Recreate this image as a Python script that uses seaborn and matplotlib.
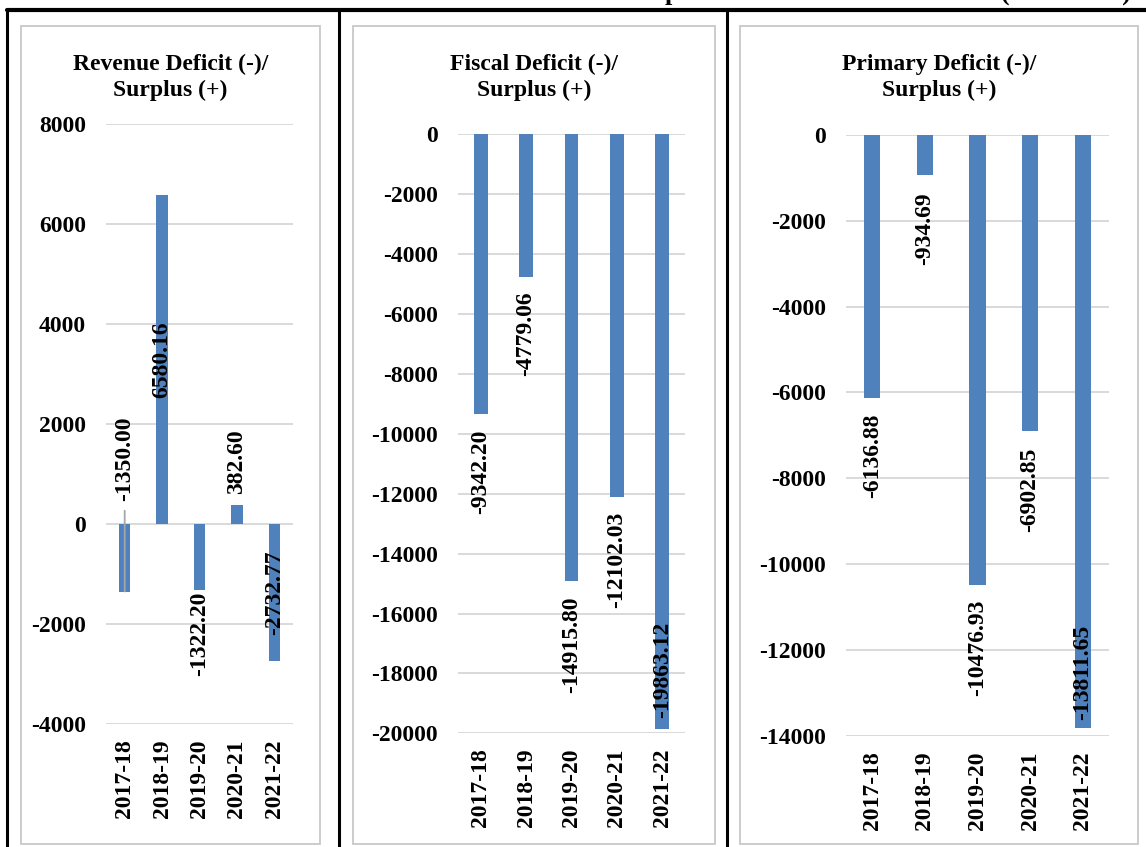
import matplotlib
matplotlib.use("Agg")
import matplotlib.pyplot as plt
import numpy as np
import pandas as pd
import seaborn as sns
from matplotlib.lines import Line2D
from matplotlib.patches import Rectangle

# ---- data (₹ crore) ----
years = ["2017-18", "2018-19", "2019-20", "2020-21", "2021-22"]
revenue = [-1350.00, 6580.16, -1322.20, 382.60, -2732.77]
fiscal = [-9342.20, -4779.06, -14915.80, -12102.03, -19863.12]
primary = [-6136.88, -934.69, -10476.93, -6902.85, -13811.65]

titles = [
    "Revenue Deficit (-)/\nSurplus (+)",
    "Fiscal Deficit (-)/\nSurplus (+)",
    "Primary Deficit (-)/\nSurplus (+)",
]
heading = "Deficit/Surplus of the State Government (₹ in crore)"

# ---- style ----
sns.set_theme(style="white")
plt.rcParams["font.family"] = ["Liberation Serif", "DejaVu Serif"]
plt.rcParams["font.weight"] = "bold"
plt.rcParams["axes.unicode_minus"] = False

W, H = 1146, 847
BLUE = "#4F81BD"
GRID = "#D9D9D9"
FRAME = "#C8C8C8"
LEADER = "#A6A6A6"
FS = 17

fig = plt.figure(figsize=(W / 100, H / 100), dpi=100)
fig.patch.set_facecolor("white")


def fx(x):
    return x / W


def fy(y):
    return 1 - y / H


def px_axes(l, t, r, b):
    return fig.add_axes([fx(l), fy(b), (r - l) / W, (b - t) / H])


# table rules around the three panels
rules = [
    ((7, W), (10, 10), 3.0),
    ((7, 7), (10, H), 2.2),
    ((339, 339), (10, H), 2.2),
    ((727, 727), (10, H), 2.2),
]
for xs, ys, lw in rules:
    fig.add_artist(Line2D([fx(xs[0]), fx(xs[1])], [fy(ys[0]), fy(ys[1])],
                          color="black", lw=lw, transform=fig.transFigure))

# heading line of the table, running above the top edge
fig.text(fx(1131), 1.0, heading, ha="right", va="baseline", fontsize=19,
         fontweight="bold", color="black")

panels = [
    dict(values=revenue, box=(21, 26, 320, 844), area=(106, 124, 293, 724),
         ylim=(-4000, 8000), ticks=np.arange(-4000, 8001, 2000),
         width=0.3,
         modes=["lead", "center", "out", "out", "center"],
         gaps=[65.5, 0, 1, 8, 0]),
    dict(values=fiscal, box=(353, 26, 715, 844), area=(458, 134.3, 685, 733.3),
         ylim=(-20000, 0), ticks=np.arange(-20000, 1, 2000),
         width=0.3,
         modes=["out", "out", "out", "out", "in"],
         gaps=[11, 10, 11, 11, 8]),
    dict(values=primary, box=(740, 26, 1138, 844), area=(846, 134.7, 1109, 736),
         ylim=(-14000, 0), ticks=np.arange(-14000, 1, 2000),
         width=0.31,
         modes=["out", "out", "out", "out", "in"],
         gaps=[11, 12.5, 11, 12, 6]),
]

for title, p in zip(titles, panels):
    l, t, r, b = p["box"]
    fig.add_artist(Rectangle((fx(l), fy(b)), (r - l) / W, (b - t) / H,
                             transform=fig.transFigure, facecolor="none",
                             edgecolor=FRAME, lw=1.3))
    fig.text(fx((l + r) / 2), fy(54), title, ha="center", va="top",
             fontsize=FS, fontweight="bold", linespacing=1.3, color="black")

    ax = px_axes(*p["area"])
    df = pd.DataFrame({"year": years, "value": p["values"]})
    sns.barplot(data=df, x="year", y="value", order=years, color=BLUE,
                saturation=1, width=p["width"], linewidth=0, errorbar=None,
                ax=ax, zorder=2)

    ax.set_xlim(-0.5, len(years) - 0.5)
    ax.set_ylim(*p["ylim"])
    ax.set_yticks(p["ticks"])
    ax.set_yticklabels([str(int(v)) for v in p["ticks"]], fontsize=FS,
                       fontweight="bold")
    ax.set_xticks(range(len(years)))
    ax.set_xticklabels(years, rotation=90, fontsize=FS, fontweight="bold")
    ax.tick_params(axis="y", length=0, pad=14.5, colors="black")
    ax.tick_params(axis="x", length=0, pad=11, colors="black")
    ax.set_xlabel("")
    ax.set_ylabel("")
    ax.yaxis.grid(True, color=GRID, lw=1.4)
    ax.xaxis.grid(False)
    ax.set_axisbelow(True)
    for s in ax.spines.values():
        s.set_visible(False)
    ax.set_facecolor("none")

    # value labels
    for i, (v, mode, gap) in enumerate(zip(p["values"], p["modes"], p["gaps"])):
        txt = f"{v:.2f}"
        kw = dict(rotation=90, ha="center", fontsize=FS, fontweight="bold",
                  color="black", textcoords="offset points", zorder=3,
                  annotation_clip=False)
        if mode == "center":
            ax.annotate(txt, xy=(i, v / 2), xytext=(0, 0), va="center", **kw)
        elif mode == "out":
            if v < 0:
                ax.annotate(txt, xy=(i, v), xytext=(0, -gap), va="top", **kw)
            else:
                ax.annotate(txt, xy=(i, v), xytext=(0, gap), va="bottom", **kw)
        elif mode == "in":
            ax.annotate(txt, xy=(i, v), xytext=(0, gap), va="bottom", **kw)
        elif mode == "lead":
            ax.annotate(txt, xy=(i, v), xytext=(0, gap), va="bottom",
                        arrowprops=dict(arrowstyle="-", color=LEADER, lw=1.3,
                                        shrinkA=5, shrinkB=0), **kw)

fig.savefig("out.png", dpi=100, facecolor="white")
